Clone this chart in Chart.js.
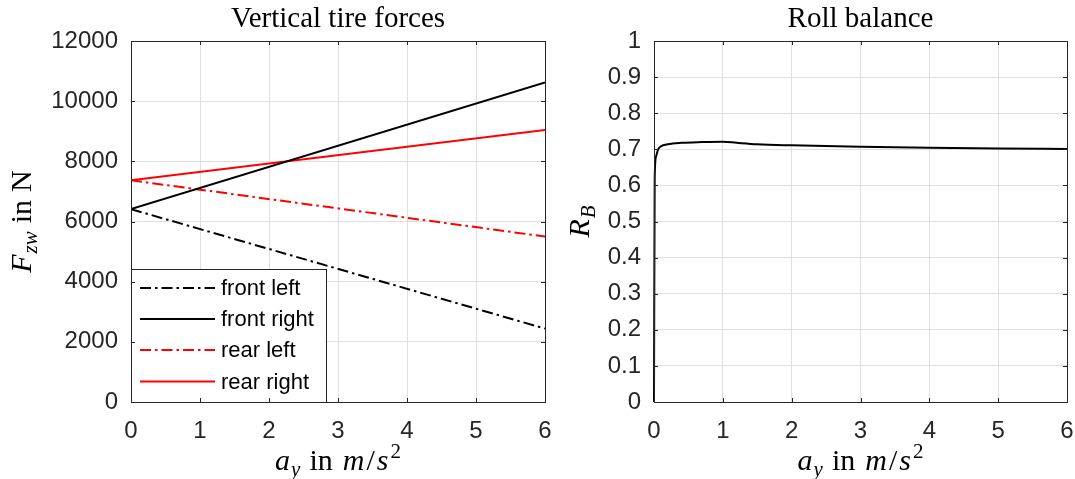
<!DOCTYPE html>
<html><head><meta charset="utf-8">
<script src="https://cdn.jsdelivr.net/npm/chart.js@4/dist/chart.umd.min.js"></script>
<style>
html,body{margin:0;padding:0;background:#fff;}
body{width:1075px;height:479px;overflow:hidden;position:relative;}
#w1{position:absolute;left:0;top:0;width:560px;height:479px;}
#w2{position:absolute;left:560px;top:0;width:515px;height:479px;}
</style></head>
<body>
<div id="w1"><canvas id="c1" width="560" height="479"></canvas></div>
<div id="w2"><canvas id="c2" width="515" height="479"></canvas></div>
<script>
// ---- data ----
const accelX = [0, 6];
const frontLeft = [6410, 2440];
const frontRight = [6410, 10620];
const rearLeft = [7370, 5500];
const rearRight = [7370, 9040];
const seriesLabels = ['front left', 'front right', 'rear left', 'rear right'];

const rollX = [0, 0.01, 0.03, 0.06, 0.1, 0.2, 0.4, 0.7, 1.0, 1.2, 1.5, 2, 3, 4, 5, 6];
const rollBalance = [0, 0.62, 0.68, 0.70, 0.708, 0.714, 0.718, 0.72, 0.721, 0.718, 0.714, 0.711, 0.707, 0.704, 0.702, 0.701];

const xTicks = [0, 1, 2, 3, 4, 5, 6];
const forceTicks = [0, 2000, 4000, 6000, 8000, 10000, 12000];
const balanceTicks = [0, 0.1, 0.2, 0.3, 0.4, 0.5, 0.6, 0.7, 0.8, 0.9, 1];
const titles = ['Vertical tire forces', 'Roll balance'];

// ---- helpers ----
const AX = '#262626';
const GRID = '#dfdfdf';
const DASHDOT = [11, 4, 2.5, 4];
const SERIF = '"Liberation Serif", "Times New Roman", serif';
const SANS = '"Liberation Sans", Arial, sans-serif';

function pts(xs, ys) { return xs.map((x, i) => ({x: x, y: ys[i]})); }

function drawRich(ctx, parts, cx, cy, rot) {
  ctx.save();
  ctx.translate(cx, cy);
  ctx.rotate(rot);
  ctx.fillStyle = '#000';
  ctx.textBaseline = 'alphabetic';
  ctx.textAlign = 'left';
  let total = 0;
  const ws = parts.map(p => {
    ctx.font = (p.it ? 'italic ' : '') + p.size + 'px ' + SERIF;
    const w = ctx.measureText(p.t).width + (p.gap || 0);
    total += w; return w;
  });
  let x = -total / 2;
  parts.forEach((p, i) => {
    ctx.font = (p.it ? 'italic ' : '') + p.size + 'px ' + SERIF;
    ctx.fillText(p.t, x, p.dy || 0);
    x += ws[i];
  });
  ctx.restore();
}

const xLabelParts = [
  {t: 'a', it: true, size: 30, gap: 1},
  {t: 'y', it: true, size: 21, dy: 6, gap: 9},
  {t: 'in', size: 30, gap: 10},
  {t: 'm', it: true, size: 30, gap: 2},
  {t: '/', size: 30, gap: 2},
  {t: 's', it: true, size: 30, gap: 2},
  {t: '2', size: 21, dy: -12}
];
const yLabelLeft = [
  {t: 'F', it: true, size: 30, gap: 1},
  {t: 'zw', it: true, size: 21, dy: 6, gap: 8},
  {t: 'in', size: 30, gap: 8},
  {t: 'N', size: 30}
];
const yLabelRight = [
  {t: 'R', it: true, size: 30, gap: 1},
  {t: 'B', it: true, size: 21, dy: 6}
];

function framePlugin(cfg) {
  return {
    id: 'frame',
    afterDatasetsDraw(chart) {
      const ctx = chart.ctx, a = chart.chartArea;
      const xs = chart.scales.x, ys = chart.scales.y;
      ctx.save();
      if (cfg.legend) {
        const L = cfg.legend;
        ctx.fillStyle = '#fff';
        ctx.fillRect(L.x, L.y, L.w, L.h);
        ctx.strokeStyle = AX; ctx.lineWidth = 1;
        ctx.strokeRect(L.x + 0.5, L.y + 0.5, L.w, L.h);
        chart.data.datasets.forEach((ds, i) => {
          const yy = L.rows[i];
          ctx.beginPath();
          ctx.setLineDash(ds.borderDash || []);
          ctx.strokeStyle = ds.borderColor; ctx.lineWidth = 2;
          ctx.moveTo(L.lx0, yy); ctx.lineTo(L.lx1, yy); ctx.stroke();
          ctx.setLineDash([]);
          ctx.fillStyle = '#000';
          ctx.font = '22px ' + SANS;
          ctx.textBaseline = 'middle'; ctx.textAlign = 'left';
          ctx.fillText(ds.label, L.tx, yy + 1);
        });
      }
      ctx.strokeStyle = AX; ctx.lineWidth = 1;
      ctx.strokeRect(Math.round(a.left) + 0.5, Math.round(a.top) + 0.5,
        Math.round(a.right - a.left), Math.round(a.bottom - a.top));
      ctx.beginPath();
      const tl = 4;
      cfg.yTicks.forEach(v => {
        const p = Math.round(ys.getPixelForValue(v)) + 0.5;
        ctx.moveTo(a.left, p); ctx.lineTo(a.left + tl, p);
        ctx.moveTo(a.right, p); ctx.lineTo(a.right - tl, p);
      });
      xTicks.forEach(v => {
        const p = Math.round(xs.getPixelForValue(v)) + 0.5;
        ctx.moveTo(p, a.bottom); ctx.lineTo(p, a.bottom - tl);
        ctx.moveTo(p, a.top); ctx.lineTo(p, a.top + tl);
      });
      ctx.stroke();
      ctx.restore();
    },
    afterDraw(chart) {
      const ctx = chart.ctx, a = chart.chartArea;
      const cx = (a.left + a.right) / 2;
      ctx.save();
      ctx.fillStyle = '#000';
      ctx.font = '29px ' + SERIF;
      ctx.textAlign = 'center'; ctx.textBaseline = 'alphabetic';
      ctx.fillText(cfg.title, cx, 27);
      ctx.restore();
      drawRich(ctx, xLabelParts, cx, 470, 0);
      drawRich(ctx, cfg.yLabel, cfg.yLabelX, (a.top + a.bottom) / 2, -Math.PI / 2);
    }
  };
}

function makeOptions(cfg) {
  return {
    responsive: false,
    devicePixelRatio: 1,
    animation: false,
    events: [],
    layout: {padding: {left: 0, top: 41, right: cfg.padRight, bottom: 0}},
    plugins: {legend: {display: false}, tooltip: {enabled: false}, title: {display: false}},
    scales: {
      x: {
        type: 'linear', min: 0, max: 6,
        afterBuildTicks: s => { s.ticks = xTicks.map(v => ({value: v})); },
        afterFit: s => { s.height = 77; s.paddingLeft = 0; s.paddingRight = 0; },
        grid: {color: GRID, drawTicks: false, lineWidth: 1},
        border: {display: false},
        ticks: {font: {family: SANS, size: 24}, color: AX, padding: 15, maxRotation: 0,
                callback: v => String(v)}
      },
      y: {
        type: 'linear', min: cfg.yMin, max: cfg.yMax,
        afterBuildTicks: s => { s.ticks = cfg.yTicks.map(v => ({value: v})); },
        afterFit: s => { s.width = cfg.yWidth; s.paddingTop = 0; s.paddingBottom = 0; },
        grid: {color: GRID, drawTicks: false, lineWidth: 1},
        border: {display: false},
        ticks: {font: {family: SANS, size: 24}, color: AX, padding: 13,
                callback: v => String(Math.round(v * 1000) / 1000)}
      }
    }
  };
}

const cfgLeft = {
  title: titles[0], yTicks: forceTicks, yMin: 0, yMax: 12000, yWidth: 131, padRight: 15,
  yLabel: yLabelLeft, yLabelX: 31,
  legend: {x: 131, y: 269, w: 195, h: 133, lx0: 140, lx1: 215, tx: 221, rows: [288, 319, 350, 381.5]}
};
const cfgRight = {
  title: titles[1], yTicks: balanceTicks, yMin: 0, yMax: 1, yWidth: 94, padRight: 8,
  yLabel: yLabelRight, yLabelX: 29
};

const lineBase = {pointRadius: 0, borderWidth: 2, fill: false, tension: 0};

new Chart(document.getElementById('c1'), {
  type: 'line',
  data: {
    datasets: [
      Object.assign({label: seriesLabels[0], data: pts(accelX, frontLeft), borderColor: '#000', borderDash: DASHDOT}, lineBase),
      Object.assign({label: seriesLabels[1], data: pts(accelX, frontRight), borderColor: '#000'}, lineBase),
      Object.assign({label: seriesLabels[2], data: pts(accelX, rearLeft), borderColor: '#ff0000', borderDash: DASHDOT}, lineBase),
      Object.assign({label: seriesLabels[3], data: pts(accelX, rearRight), borderColor: '#ff0000'}, lineBase)
    ]
  },
  options: makeOptions(cfgLeft),
  plugins: [framePlugin(cfgLeft)]
});

new Chart(document.getElementById('c2'), {
  type: 'line',
  data: {
    datasets: [
      Object.assign({label: 'R_B', data: pts(rollX, rollBalance), borderColor: '#000', cubicInterpolationMode: 'monotone', clip: 4}, lineBase)
    ]
  },
  options: makeOptions(cfgRight),
  plugins: [framePlugin(cfgRight)]
});
</script>
</body></html>
